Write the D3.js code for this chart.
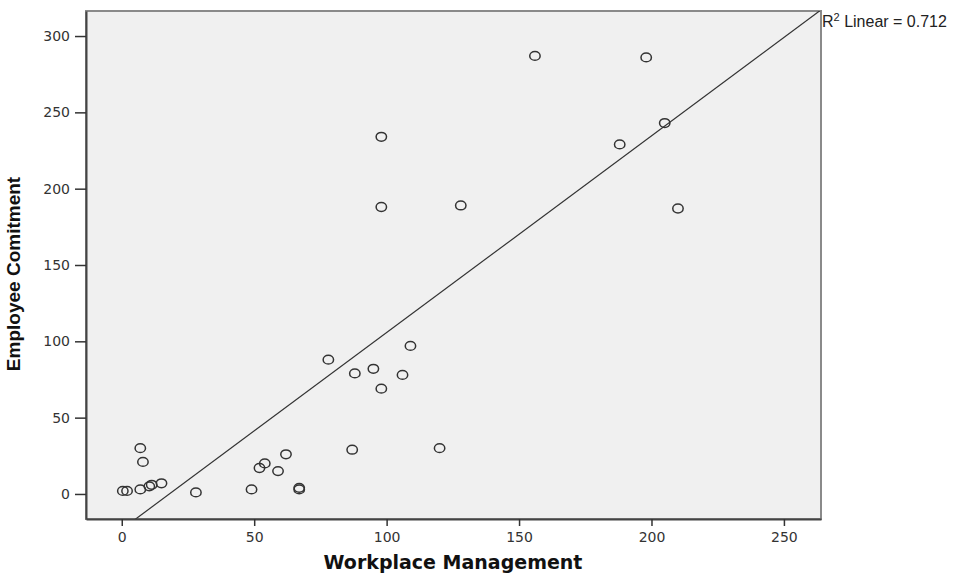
<!DOCTYPE html>
<html lang="en">
<head>
<meta charset="utf-8">
<title>Scatter</title>
<script src="https://d3js.org/d3.v7.min.js"></script>
<style>
  body { margin: 0; background: #fff; }
  svg { display: block; }
</style>
</head>
<body>
<div id="chart"></div>
<script>
// Workplace Management (x) vs Employee Comitment (y)
var workplace = [156, 198, 98, 205, 188, 98, 128, 210,
                 78, 109, 88, 95, 106, 98, 87, 120,
                 7, 8, 0.4, 2, 7, 10.4, 11.3, 15, 28, 49, 52, 54, 59, 62, 67, 67];
var commitment = [287, 286, 234, 243, 229, 188, 189, 187,
                  88, 97, 79, 82, 78, 69, 29, 30,
                  30, 21, 2, 2, 3, 5, 6, 7, 1, 3, 17, 20, 15, 26, 3, 4];
var xTicks = [0, 50, 100, 150, 200, 250];
var yTicks = [0, 50, 100, 150, 200, 250, 300];
var r2Text = "0.712";

var w = 954, h = 574;
var plotL = 86, plotR = 821, plotT = 11, plotB = 519;

var x = d3.scaleLinear().domain([-13.5, 264]).range([plotL, plotR]);
var y = d3.scaleLinear().domain([-16.4, 316.4]).range([plotB, plotT]);

var svg = d3.select("#chart").append("svg")
  .attr("width", w).attr("height", h)
  .style("font-family", "Arial, 'Liberation Sans', sans-serif");

// plot background
svg.append("rect")
  .attr("x", plotL).attr("y", plotT)
  .attr("width", plotR - plotL).attr("height", plotB - plotT)
  .attr("fill", "#f0f0f0")
  .attr("stroke", "#8a8a8a").attr("stroke-width", 2);

svg.append("clipPath").attr("id", "clip")
  .append("rect").attr("x", plotL).attr("y", plotT)
  .attr("width", plotR - plotL).attr("height", plotB - plotT);

// least squares fit line
var mx = d3.mean(workplace), my = d3.mean(commitment);
var sxy = d3.sum(workplace, function(d, i) { return (d - mx) * (commitment[i] - my); });
var sxx = d3.sum(workplace, function(d) { return (d - mx) * (d - mx); });
var slope = sxy / sxx, icpt = my - slope * mx;

var xs = x.domain();
svg.append("line")
  .attr("clip-path", "url(#clip)")
  .attr("x1", x(xs[0])).attr("y1", y(icpt + slope * xs[0]))
  .attr("x2", x(xs[1])).attr("y2", y(icpt + slope * xs[1]))
  .attr("stroke", "#333").attr("stroke-width", 1.2);

// points (SPSS markers are slightly wide ellipses)
svg.selectAll("ellipse.pt")
  .data(workplace)
  .enter()
  .append("ellipse")
  .attr("class", "pt")
  .attr("cx", function(d) { return x(d); })
  .attr("cy", function(d, i) { return y(commitment[i]); })
  .attr("rx", 5.2)
  .attr("ry", 4.4)
  .attr("fill", "none")
  .attr("stroke", "#333")
  .attr("stroke-width", 1.5);

// axes
var xAxis = svg.append("g")
  .attr("transform", "translate(0," + plotB + ")")
  .call(d3.axisBottom(x).tickValues(xTicks).tickSize(7).tickSizeOuter(0));
var yAxis = svg.append("g")
  .attr("transform", "translate(" + plotL + ",0)")
  .call(d3.axisLeft(y).tickValues(yTicks).tickSize(11).tickSizeOuter(0));

[xAxis, yAxis].forEach(function(a) {
  a.select(".domain").attr("stroke", "#444").attr("stroke-width", 2);
  a.selectAll(".tick line").attr("stroke", "#333").attr("stroke-width", 1.5);
  a.selectAll(".tick text").attr("fill", "#333").attr("font-size", "14px")
    .attr("font-family", "'DejaVu Sans', Verdana, sans-serif");
});
xAxis.selectAll(".tick text").attr("dy", "0.95em");
yAxis.selectAll(".tick text").attr("dx", "-2px");

// axis titles
svg.append("text")
  .attr("x", 453).attr("y", 569)
  .attr("text-anchor", "middle")
  .attr("font-family", "'DejaVu Sans', Verdana, sans-serif")
  .attr("font-weight", "bold").attr("font-size", "19px")
  .attr("fill", "#111")
  .text("Workplace Management");

svg.append("text")
  .attr("transform", "translate(20,274) rotate(-90)")
  .attr("text-anchor", "middle")
  .attr("font-family", "Arial, 'Liberation Sans', sans-serif")
  .attr("font-weight", "bold").attr("font-size", "19px")
  .attr("fill", "#111")
  .text("Employee Comitment");

// R squared label
var r2 = svg.append("text")
  .attr("x", plotR + 1).attr("y", 27)
  .attr("font-size", "16px").attr("fill", "#222");
r2.append("tspan").text("R");
r2.append("tspan").attr("dy", "-6").attr("font-size", "11px").text("2");
r2.append("tspan").attr("dy", "6").text(" Linear = " + r2Text);
</script>
</body>
</html>
